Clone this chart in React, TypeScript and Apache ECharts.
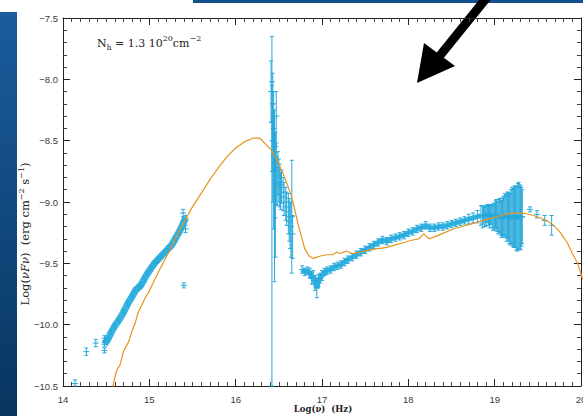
import React, { useEffect, useRef } from "react";
import * as echarts from "echarts";

// Model SED (log nu, log nuFnu)
const modelNu = [14.56, 14.61, 14.63, 14.66, 14.70, 14.76, 14.80, 14.84, 14.87, 14.92, 14.96, 14.99, 15.05, 15.12, 15.18, 15.24, 15.30, 15.35, 15.41, 15.50, 15.60, 15.70, 15.80, 15.90, 16.00, 16.10, 16.20, 16.28, 16.35, 16.42, 16.48, 16.55, 16.60, 16.65, 16.73, 16.80, 16.85, 16.90, 16.98, 17.06, 17.12, 17.17, 17.21, 17.28, 17.35, 17.45, 17.55, 17.65, 17.75, 17.85, 17.95, 18.05, 18.12, 18.18, 18.24, 18.32, 18.42, 18.52, 18.62, 18.72, 18.82, 18.92, 19.02, 19.12, 19.22, 19.33, 19.45, 19.53, 19.62, 19.68, 19.75, 19.84, 19.90, 19.96, 20.02];
const modelFlux = [-10.56, -10.40, -10.36, -10.33, -10.22, -10.14, -10.05, -9.98, -9.90, -9.83, -9.77, -9.74, -9.65, -9.55, -9.47, -9.39, -9.30, -9.23, -9.15, -9.04, -8.93, -8.82, -8.72, -8.63, -8.56, -8.51, -8.48, -8.48, -8.53, -8.58, -8.66, -8.77, -8.86, -8.96, -9.20, -9.38, -9.44, -9.46, -9.44, -9.43, -9.43, -9.41, -9.42, -9.40, -9.42, -9.41, -9.39, -9.38, -9.37, -9.35, -9.33, -9.31, -9.30, -9.26, -9.30, -9.28, -9.25, -9.22, -9.20, -9.18, -9.16, -9.14, -9.12, -9.10, -9.09, -9.09, -9.11, -9.13, -9.16, -9.19, -9.24, -9.33, -9.42, -9.50, -9.63];

// Infrared / isolated photometric points
const irNu = [14.14, 14.27, 14.38, 14.48, 14.48, 15.39, 15.42, 15.40];
const irFlux = [-10.48, -10.22, -10.15, -10.21, -10.11, -9.09, -9.22, -9.68];
const irErr = [0.03, 0.03, 0.03, 0.02, 0.02, 0.03, 0.03, 0.02];

// Optical spectrum
const optNu = [14.48, 14.52, 14.56, 14.60, 14.65, 14.70, 14.75, 14.80, 14.84, 14.87, 14.90, 14.94, 14.98, 15.02, 15.06, 15.10, 15.14, 15.18, 15.22, 15.26, 15.30, 15.34, 15.37, 15.40, 15.42];
const optFlux = [-10.16, -10.12, -10.06, -10.01, -9.96, -9.90, -9.83, -9.77, -9.72, -9.70, -9.68, -9.63, -9.58, -9.54, -9.50, -9.47, -9.44, -9.41, -9.38, -9.35, -9.30, -9.25, -9.21, -9.16, -9.13];

// Ultraviolet spectrum
const uvNu = [16.41, 16.42, 16.42, 16.43, 16.43, 16.44, 16.44, 16.45, 16.45, 16.46, 16.46, 16.47, 16.47, 16.48, 16.49, 16.50, 16.51, 16.52, 16.53, 16.55, 16.56, 16.58, 16.59, 16.61, 16.62, 16.63, 16.64, 16.65, 16.66];
const uvFlux = [-8.10, -8.02, -8.35, -8.20, -8.50, -8.40, -8.62, -8.55, -8.75, -8.68, -8.85, -8.30, -8.72, -8.78, -8.74, -8.80, -8.84, -8.88, -8.86, -8.92, -8.96, -9.00, -9.04, -9.08, -9.12, -9.16, -9.20, -9.12, -9.26];
const uvErrLo = [0.25, 2.60, 0.40, 0.30, 0.50, 0.35, 0.60, 0.40, 0.90, 0.45, 0.60, 0.25, 0.30, 0.25, 0.20, 0.20, 0.20, 0.18, 0.15, 0.15, 0.15, 0.15, 0.15, 0.18, 0.20, 0.22, 0.25, 0.46, 0.20];
const uvErrHi = [0.25, 0.37, 0.30, 0.25, 0.30, 0.30, 0.30, 0.30, 0.30, 0.25, 0.25, 0.20, 0.20, 0.15, 0.15, 0.15, 0.15, 0.12, 0.12, 0.12, 0.12, 0.12, 0.12, 0.15, 0.15, 0.15, 0.20, 0.46, 0.15];

// X-ray spectrum
const xrayNu = [16.77, 16.80, 16.83, 16.86, 16.88, 16.90, 16.92, 16.94, 16.96, 16.98, 17.00, 17.03, 17.06, 17.10, 17.14, 17.18, 17.22, 17.26, 17.30, 17.35, 17.40, 17.45, 17.50, 17.55, 17.60, 17.65, 17.70, 17.75, 17.80, 17.85, 17.90, 17.95, 18.00, 18.05, 18.10, 18.15, 18.20, 18.25, 18.30, 18.35, 18.40, 18.45, 18.50, 18.55, 18.60, 18.65, 18.70, 18.75, 18.80, 18.84];
const xrayFlux = [-9.55, -9.57, -9.56, -9.58, -9.62, -9.60, -9.66, -9.70, -9.64, -9.62, -9.60, -9.57, -9.56, -9.55, -9.53, -9.52, -9.51, -9.49, -9.47, -9.45, -9.43, -9.41, -9.39, -9.37, -9.35, -9.33, -9.31, -9.32, -9.30, -9.29, -9.28, -9.27, -9.25, -9.24, -9.22, -9.21, -9.19, -9.21, -9.21, -9.20, -9.20, -9.19, -9.18, -9.17, -9.16, -9.15, -9.14, -9.13, -9.12, -9.11];
const xrayErr = [0.03, 0.03, 0.03, 0.04, 0.05, 0.04, 0.06, 0.08, 0.05, 0.04, 0.04, 0.03, 0.03, 0.03, 0.03, 0.03, 0.03, 0.03, 0.03, 0.03, 0.03, 0.03, 0.03, 0.03, 0.03, 0.03, 0.03, 0.03, 0.03, 0.03, 0.03, 0.03, 0.03, 0.03, 0.03, 0.03, 0.03, 0.03, 0.03, 0.03, 0.03, 0.03, 0.03, 0.03, 0.03, 0.03, 0.04, 0.04, 0.05, 0.08];

// Hard X-ray bins with growing errors
const hardNu = [18.86, 18.87, 18.88, 18.89, 18.90, 18.91, 18.92, 18.93, 18.94, 18.95, 18.96, 18.97, 18.98, 18.99, 19.00, 19.01, 19.02, 19.03, 19.04, 19.05, 19.06, 19.07, 19.08, 19.09, 19.10, 19.11, 19.12, 19.13, 19.14, 19.15, 19.16, 19.17, 19.18, 19.19, 19.20, 19.21, 19.22, 19.23, 19.24, 19.25, 19.26, 19.27, 19.28, 19.29, 19.30, 19.31, 19.32, 19.41, 19.49, 19.58, 19.66];
const hardFlux = [-9.12, -9.11, -9.10, -9.12, -9.11, -9.10, -9.09, -9.11, -9.12, -9.10, -9.10, -9.12, -9.13, -9.11, -9.12, -9.10, -9.10, -9.12, -9.13, -9.11, -9.11, -9.13, -9.14, -9.12, -9.12, -9.11, -9.10, -9.12, -9.13, -9.11, -9.12, -9.14, -9.14, -9.12, -9.11, -9.13, -9.13, -9.12, -9.12, -9.13, -9.14, -9.12, -9.11, -9.12, -9.13, -9.12, -9.12, -9.06, -9.10, -9.15, -9.19];
const hardErr = [0.09, 0.07, 0.06, 0.08, 0.08, 0.07, 0.07, 0.08, 0.09, 0.08, 0.08, 0.09, 0.10, 0.10, 0.11, 0.11, 0.12, 0.12, 0.13, 0.13, 0.14, 0.14, 0.15, 0.15, 0.16, 0.16, 0.17, 0.17, 0.19, 0.19, 0.20, 0.20, 0.21, 0.22, 0.23, 0.23, 0.24, 0.25, 0.25, 0.26, 0.26, 0.27, 0.27, 0.26, 0.26, 0.24, 0.22, 0.02, 0.03, 0.04, 0.08];

const DATA_COLOR = "#27a8da";
const BAND_COLOR = "#3ab6e2";
const MODEL_COLOR = "#e8931f";

const pairs = (xs: number[], ys: number[]) => xs.map((x, i) => [x, ys[i]]);
const bars = (xs: number[], ys: number[], lo: number[], hi: number[]) =>
  xs.map((x, i) => [x, ys[i], lo[i], hi[i]]);

const errorBarItem = (params: any, api: any) => {
  const x = api.value(0);
  const y = api.value(1);
  const lo = api.value(2);
  const hi = api.value(3);
  const cs = params.coordSys;
  const c = api.coord([x, y]);
  const top = Math.max(api.coord([x, y + hi])[1], cs.y);
  const bot = Math.min(api.coord([x, y - lo])[1], cs.y + cs.height);
  const style = { stroke: DATA_COLOR, lineWidth: 1 };
  return {
    type: "group",
    children: [
      { type: "line", shape: { x1: c[0], y1: top, x2: c[0], y2: bot }, style },
      { type: "line", shape: { x1: c[0] - 2, y1: top, x2: c[0] + 2, y2: top }, style },
      { type: "line", shape: { x1: c[0] - 2, y1: bot, x2: c[0] + 2, y2: bot }, style },
      { type: "line", shape: { x1: c[0] - 3, y1: c[1], x2: c[0] + 3, y2: c[1] }, style },
    ],
  };
};

const axisCommon = {
  axisLine: { show: true, onZero: false, lineStyle: { color: "#222", width: 1 } },
  axisTick: { show: true, inside: true, length: 7, lineStyle: { color: "#222" } },
  minorTick: { show: true, length: 4, lineStyle: { color: "#444" } },
  splitLine: { show: false },
};

export default function App() {
  const ref = useRef<HTMLDivElement>(null);

  useEffect(() => {
    if (!ref.current) return;
    const chart = echarts.init(ref.current, null, { renderer: "svg" });
    const labelFont = { fontFamily: "Liberation Sans", fontSize: 9.5, color: "#3a3a3a" };

    chart.setOption({
      animation: false,
      backgroundColor: "#ffffff",
      grid: { left: 63, top: 18, right: 2, bottom: 30, containLabel: false, outerBoundsMode: "none" },
      xAxis: [
        {
          type: "value", min: 14, max: 20, interval: 1, position: "bottom",
          ...axisCommon,
          minorTick: { ...axisCommon.minorTick, splitNumber: 10 },
          axisLabel: { ...labelFont, margin: 8 },
        },
        {
          type: "value", min: 14, max: 20, interval: 1, position: "top",
          ...axisCommon,
          minorTick: { ...axisCommon.minorTick, splitNumber: 10 },
          axisLabel: { show: false },
        },
      ],
      yAxis: [
        {
          type: "value", min: -10.5, max: -7.5, interval: 0.5, position: "left",
          ...axisCommon,
          minorTick: { ...axisCommon.minorTick, splitNumber: 5 },
          axisLabel: {
            ...labelFont, margin: 5,
            formatter: (v: number) => v.toFixed(1).replace("-", "\u2212"),
          },
        },
        {
          type: "value", min: -10.5, max: -7.5, interval: 0.5, position: "right",
          ...axisCommon,
          minorTick: { ...axisCommon.minorTick, splitNumber: 5 },
          axisLabel: { show: false },
        },
      ],
      series: [
        {
          type: "line", data: pairs(optNu, optFlux), showSymbol: false, z: 2,
          lineStyle: { color: BAND_COLOR, width: 7 },
        },
        {
          type: "line", data: pairs(xrayNu, xrayFlux), showSymbol: false, z: 2,
          lineStyle: { color: BAND_COLOR, width: 5 },
        },
        {
          type: "custom", renderItem: errorBarItem, z: 3,
          encode: { x: 0, y: 1 },
          data: [
            ...bars(irNu, irFlux, irErr, irErr),
            ...bars(optNu, optFlux, optNu.map(() => 0.02), optNu.map(() => 0.02)),
            ...bars(uvNu, uvFlux, uvErrLo, uvErrHi),
            ...bars(xrayNu, xrayFlux, xrayErr, xrayErr),
            ...bars(hardNu, hardFlux, hardErr, hardErr),
          ],
        },
        {
          type: "line", data: pairs(modelNu, modelFlux), showSymbol: false, z: 4,
          lineStyle: { color: MODEL_COLOR, width: 1.2 },
        },
      ],
      graphic: [
        {
          type: "rect", shape: { x: 0, y: 12, width: 17, height: 404 }, silent: true,
          style: {
            fill: new echarts.graphic.LinearGradient(0, 0, 0, 1, [
              { offset: 0, color: "#1b5c9e" },
              { offset: 1, color: "#07365f" },
            ]),
          },
        },
        {
          type: "rect", shape: { x: 193, y: 0, width: 390, height: 3 }, silent: true,
          style: { fill: "#15508e" },
        },
        {
          type: "line", shape: { x1: 488, y1: -4, x2: 438, y2: 58 }, silent: true,
          style: { stroke: "#000", lineWidth: 9 },
        },
        {
          type: "polygon", shape: { points: [[417, 83], [424, 43], [455, 66]] }, silent: true,
          style: { fill: "#000" },
        },
        {
          type: "text", x: 97, y: 43, silent: true,
          style: {
            text: "{n|N}{b|h}{n| = 1.3 10}{s|20}{n|cm}{s|\u22122}",
            fontFamily: "DejaVu Serif", verticalAlign: "middle",
            rich: {
              n: { fontFamily: "DejaVu Serif", fontSize: 11, lineHeight: 17, verticalAlign: "middle", fill: "#222" },
              s: { fontFamily: "DejaVu Serif", fontSize: 8, lineHeight: 17, verticalAlign: "top", fill: "#222" },
              b: { fontFamily: "DejaVu Serif", fontSize: 7.5, lineHeight: 17, verticalAlign: "bottom", fill: "#222" },
            },
          },
        },
        {
          type: "text", x: 323, y: 409, silent: true,
          style: {
            text: "Log(\u03bd)  (Hz)", fontFamily: "DejaVu Serif", fontSize: 8.5, fontWeight: "bold",
            fill: "#222", align: "center", verticalAlign: "middle",
          },
        },
        {
          type: "text", x: 25, y: 234, rotation: Math.PI / 2, silent: true,
          style: {
            text: "{n|Log(}{i|\u03bdF\u03bd}{n|)  (erg cm}{s|\u22122}{n| s}{s|\u22121}{n|)}",
            align: "center", verticalAlign: "middle",
            rich: {
              n: { fontFamily: "DejaVu Serif", fontSize: 11.5, lineHeight: 16, verticalAlign: "middle", fill: "#222" },
              i: { fontFamily: "DejaVu Serif", fontStyle: "italic", fontSize: 11.5, lineHeight: 16, verticalAlign: "middle", fill: "#222" },
              s: { fontFamily: "DejaVu Serif", fontSize: 8, lineHeight: 16, verticalAlign: "top", fill: "#222" },
            },
          },
        },
      ],
    });

    return () => chart.dispose();
  }, []);

  return (
    <div
      ref={ref}
      style={{ position: "absolute", left: 0, top: 0, width: 583, height: 416 }}
    />
  );
}
